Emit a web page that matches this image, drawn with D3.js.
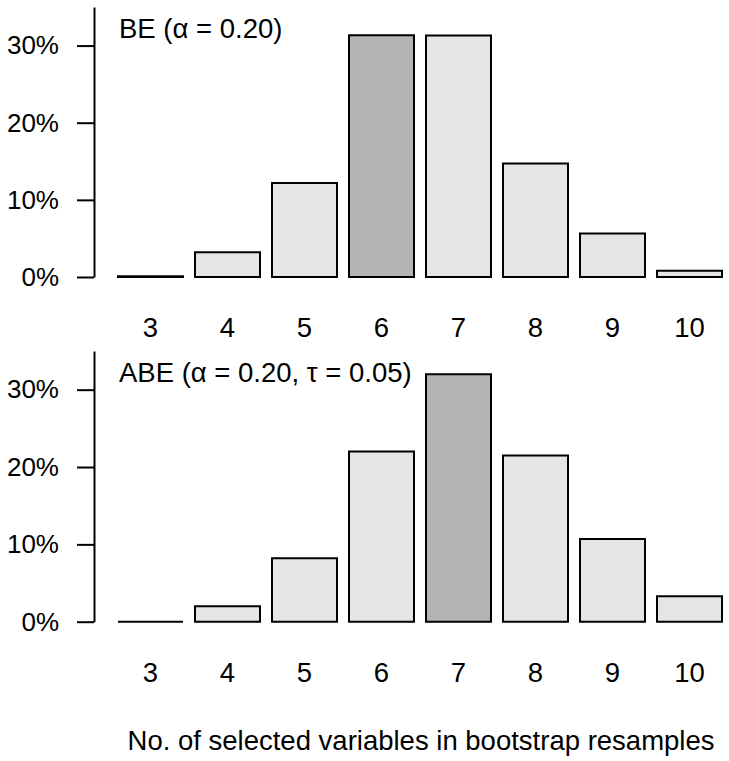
<!DOCTYPE html>
<html><head><meta charset="utf-8">
<script src="https://cdn.jsdelivr.net/npm/d3@7"></script>
<style>
body{margin:0;background:#fff;}
text{font-family:"Liberation Sans",Arial,sans-serif;}
</style></head>
<body><svg id="chart" width="729" height="761"></svg>
<script>
const categories = ["3","4","5","6","7","8","9","10"];
const beValues  = [0.1, 3.2, 12.2, 31.35, 31.3, 14.7, 5.65, 0.8];
const abeValues = [0.0, 2.0, 8.2, 22.0, 32.0, 21.5, 10.7, 3.3];
const beHighlight = "6";
const abeHighlight = "7";
const yTicks = [0, 10, 20, 30];
const yTickLabels = ["0%","10%","20%","30%"];
const beLabel = "BE (\u03B1 = 0.20)";
const abeLabel = "ABE (\u03B1 = 0.20, \u03C4 = 0.05)";
const xTitle = "No. of selected variables in bootstrap resamples";

const svg = d3.select("#chart");
const FS = 27.5;
const x = d3.scaleBand().domain(categories).range([118, 722]).paddingInner(12/77).paddingOuter(0);

const panels = [
  {values: beValues, hl: beHighlight, label: beLabel, y0: 277, y1: 7, labelY: 38, xLabY: 337},
  {values: abeValues, hl: abeHighlight, label: abeLabel, y0: 621.7, y1: 351, labelY: 382, xLabY: 682}
];

panels.forEach(p => {
  const y = d3.scaleLinear().domain([0, 35]).range([p.y0, p.y1]);
  const g = svg.append("g");
  const ax = d3.axisLeft(y).tickValues(yTicks).tickFormat((d,i)=>yTickLabels[i])
     .tickSize(17).tickSizeOuter(0).tickPadding(18);
  const axg = g.append("g").attr("transform","translate(94,0)").call(ax);
  axg.selectAll("path.domain").attr("stroke","#000").attr("stroke-width",2);
  axg.selectAll(".tick line").attr("stroke","#000").attr("stroke-width",2);
  axg.selectAll(".tick text").attr("font-size",26).attr("fill","#000")
     .style("font-family","'Liberation Sans',Arial,sans-serif");

  g.selectAll("path.bar").data(categories.map((c,i)=>({c, v:p.values[i]})))
   .enter().append("path").attr("class","bar")
   .attr("d", d => {
     const x0 = x(d.c), w = x.bandwidth(), yt = y(d.v), yb = y(0);
     return `M${x0},${yb}V${yt}H${x0+w}V${yb}Z`;
   })
   .attr("fill", d=> d.c===p.hl ? "#b3b3b3" : "#e5e5e5")
   .attr("stroke","#000").attr("stroke-width",2);

  g.selectAll("text.xl").data(categories).enter().append("text").attr("class","xl")
   .attr("x", d=>x(d)+x.bandwidth()/2).attr("y", p.xLabY)
   .attr("text-anchor","middle").attr("font-size",FS).text(d=>d);

  g.append("text").attr("x",119).attr("y",p.labelY).attr("font-size",FS).text(p.label);
});

svg.append("text").attr("x",421).attr("y",750).attr("text-anchor","middle")
  .attr("font-size",FS).text(xTitle);
</script></body></html>
